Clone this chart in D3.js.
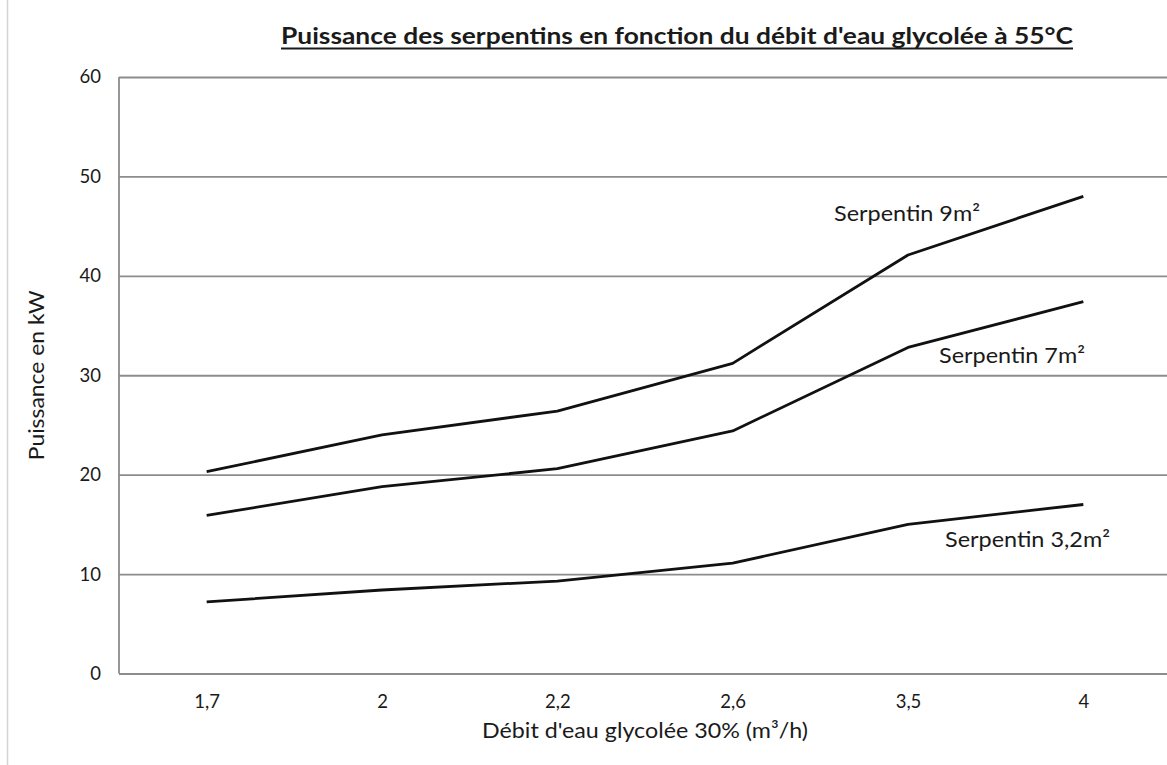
<!DOCTYPE html>
<html>
<head>
<meta charset="utf-8">
<script src="https://cdn.jsdelivr.net/npm/d3@7"></script>
<style>
  html, body { margin: 0; padding: 0; background: #fff; }
  svg { display: block; }
</style>
</head>
<body>
<svg id="chart" width="1167" height="765"></svg>
<script>
// ---- data ----
const categories = ["1,7", "2", "2,2", "2,6", "3,5", "4"];
const serpentin9 = [20.3, 24.0, 26.4, 31.2, 42.1, 48.0];
const serpentin7 = [15.9, 18.8, 20.6, 24.4, 32.8, 37.4];
const serpentin32 = [7.2, 8.4, 9.3, 11.1, 15.0, 17.0];
const seriesNames = ["Serpentin 9m²", "Serpentin 7m²", "Serpentin 3,2m²"];
const yTicks = [0, 10, 20, 30, 40, 50, 60];
const titleText = "Puissance des serpentins en fonction du débit d'eau glycolée à 55°C";
const xTitle = "Débit d'eau glycolée 30% (m³/h)";
const yTitle = "Puissance en kW";

// ---- layout ----
const svg = d3.select("#chart");
const plotLeft = 119, plotRight = 1171, plotTop = 77, plotBottom = 673.5;
const font = "Lato, 'Open Sans', sans-serif";
const textColor = "#1a1a1a";
const gridColor = "#8c8c8c";

const x = d3.scalePoint().domain(categories).range([plotLeft, plotRight]).padding(0.5);
const y = d3.scaleLinear().domain([0, 60]).range([plotBottom, plotTop]);

// outer chart border (left side visible)
svg.append("line").attr("x1", 7.5).attr("x2", 7.5).attr("y1", 0).attr("y2", 765)
  .attr("stroke", "#d4d4d4").attr("stroke-width", 1.5);

// gridlines + y axis
const yAxis = d3.axisLeft(y).tickValues(yTicks).tickSize(-(plotRight - plotLeft)).tickPadding(18)
  .tickFormat(d3.format("d"));
const gy = svg.append("g").attr("transform", `translate(${plotLeft},0)`).call(yAxis);
gy.select(".domain").remove();
gy.selectAll(".tick line").attr("stroke", gridColor).attr("stroke-width", 1.8);
gy.selectAll(".tick text").attr("font-family", font).attr("font-size", 18.5)
  .attr("fill", textColor).attr("x", -18);
// left axis line
svg.append("line").attr("x1", plotLeft).attr("x2", plotLeft).attr("y1", plotTop).attr("y2", plotBottom)
  .attr("stroke", gridColor).attr("stroke-width", 1.8);

// x axis
const xAxis = d3.axisBottom(x).tickSize(0).tickPadding(0);
const gx = svg.append("g").attr("transform", `translate(0,${plotBottom})`).call(xAxis);
gx.select(".domain").remove();
gx.selectAll(".tick text").attr("font-family", font).attr("font-size", 18.5)
  .attr("fill", textColor).attr("dy", null).attr("y", 708 - plotBottom);

// series lines
const line = d3.line().x((d, i) => x(categories[i])).y(d => y(d));
[serpentin9, serpentin7, serpentin32].forEach(s => {
  svg.append("path").datum(s).attr("d", line).attr("fill", "none")
    .attr("stroke", "#111").attr("stroke-width", 2.8).attr("stroke-linejoin", "round");
});

// series labels
const labelPos = [
  { x: 834, y: 221, w: 146 },
  { x: 939, y: 363, w: 146 },
  { x: 945, y: 547, w: 165 }
];
seriesNames.forEach((n, i) => {
  svg.append("text").attr("x", labelPos[i].x).attr("y", labelPos[i].y)
    .attr("font-family", font).attr("font-size", 21.5).attr("fill", textColor)
    .attr("textLength", labelPos[i].w).attr("lengthAdjust", "spacingAndGlyphs")
    .text(n);
});

// title
svg.append("text").attr("x", 281).attr("y", 44)
  .attr("font-family", font).attr("font-weight", "bold").attr("font-size", 23)
  .attr("fill", textColor).attr("textLength", 792).attr("lengthAdjust", "spacingAndGlyphs")
  .text(titleText);
svg.append("line").attr("x1", 281).attr("x2", 1073).attr("y1", 48.5).attr("y2", 48.5)
  .attr("stroke", textColor).attr("stroke-width", 1.8);

// x axis title
svg.append("text").attr("x", 482).attr("y", 738)
  .attr("font-family", font).attr("font-size", 22).attr("fill", textColor)
  .attr("textLength", 326).attr("lengthAdjust", "spacingAndGlyphs")
  .text(xTitle);

// y axis title
svg.append("text").attr("transform", `translate(44,${(plotTop + plotBottom) / 2}) rotate(-90)`)
  .attr("text-anchor", "middle")
  .attr("font-family", font).attr("font-size", 22).attr("fill", textColor)
  .attr("textLength", 170).attr("lengthAdjust", "spacingAndGlyphs")
  .text(yTitle);
</script>
</body>
</html>
